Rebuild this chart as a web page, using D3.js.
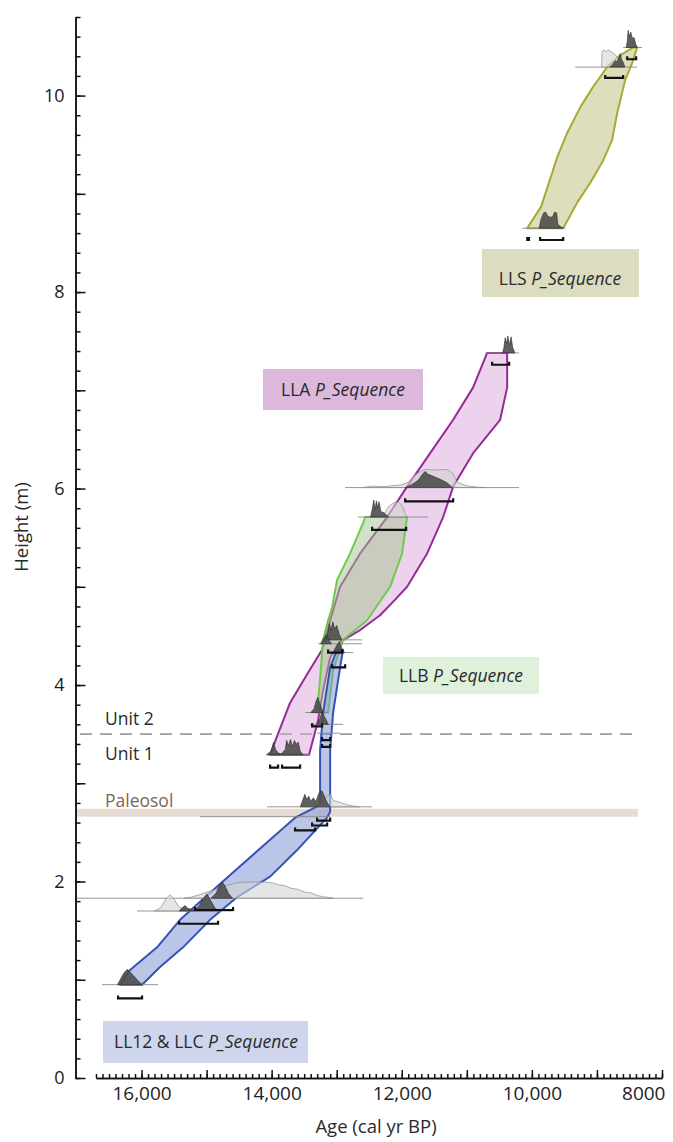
<!DOCTYPE html>
<html lang="en">
<head>
<meta charset="UTF-8">
<title>P_Sequence age-depth models</title>
<script src="https://d3js.org/d3.v7.min.js"></script>
<style>
  body { margin: 0; background: #fff; }
  svg text { font-family: "Open Sans", sans-serif; fill: #2a2a2a; }
</style>
</head>
<body>
<script>
// axis labels
const xTickValues = [16000, 14000, 12000, 10000, 8000];
const xTickLabels = ["16,000", "14,000", "12,000", "10,000", "8000"];
const yTickLabels = [0, 2, 4, 6, 8, 10];

// model envelopes, [age cal BP, height m], traced round the outline
const llsEnvelope = [[10073, 8.65], [9858, 8.87], [9612, 9.37], [9458, 9.62], [9258, 9.88], [9058, 10.09], [8843, 10.29],
  [8643, 10.41], [8443, 10.49], [8382, 10.49], [8459, 10.33], [8566, 10.16], [8612, 10.03], [8689, 9.82],
  [8766, 9.55], [8904, 9.34], [9104, 9.11], [9304, 8.91], [9519, 8.65]];
const llaEnvelope = [[10688, 7.38], [10903, 7.03], [11210, 6.70], [11564, 6.36], [11918, 6.02], [12225, 5.71], [12640, 5.34],
  [12948, 5.00], [13101, 4.66], [13225, 4.36], [13455, 4.11], [13716, 3.82], [13916, 3.48], [14024, 3.29],
  [13425, 3.29], [13286, 3.64], [13209, 3.95], [13101, 4.28], [12948, 4.44], [12640, 4.56], [12333, 4.71],
  [12102, 4.87], [11918, 5.00], [11610, 5.34], [11364, 5.71], [11210, 6.02], [10903, 6.36], [10488, 6.70],
  [10380, 7.03], [10380, 7.38]];
const llbEnvelope = [[12564, 5.71], [12594, 5.65], [12794, 5.34], [12994, 5.07], [13071, 4.79], [13132, 4.66],
  [13209, 4.46], [13255, 4.07], [13302, 3.72], [13132, 3.72], [13055, 4.15], [12902, 4.46], [12533, 4.66],
  [12179, 5.00], [11995, 5.34], [11918, 5.71]];
const ll12Envelope = [[12994, 4.36], [13101, 4.18], [13209, 3.72], [13255, 3.34], [13255, 2.78], [13640, 2.65],
  [14086, 2.39], [14547, 2.12], [15024, 1.84], [15408, 1.61], [15762, 1.33], [16177, 1.10], [16331, 0.95],
  [15992, 0.95], [15716, 1.13], [15362, 1.33], [14947, 1.61], [14532, 1.84], [14024, 2.05], [13609, 2.32],
  [13148, 2.65], [13101, 2.71], [13101, 3.34], [13055, 3.72], [12948, 4.18], [12902, 4.36]];

// sample levels: [height, oldest age, youngest age] of the grey base line
const sampleLines = [[10.49, 8597, 8305], [10.29, 9334, 8382], [8.65, 10149, 9488],
  [7.38, 10718, 10196], [6.01, 12871, 10196], [5.71, 12671, 11595], [3.29, 14070, 13425],
  [4.46, 13225, 12610], [4.42, 13286, 12610], [4.33, 13101, 12748], [3.72, 13486, 13148],
  [3.60, 13409, 12902], [3.51, 13302, 12948],
  [2.76, 14070, 12456], [2.66, 15100, 13100], [1.83, 17000, 12594], [1.70, 16069, 14593], [0.95, 16607, 15746]];

// 95% ranges: [height, oldest, youngest]
const ranges = [[10.37, 8535, 8397], [10.18, 8873, 8597], [8.53, 9874, 9519], [8.53, 10070, 10045],
  [7.26, 10611, 10349], [5.87, 11948, 11210], [5.58, 12456, 11933], [3.16, 14024, 13901], [3.16, 13840, 13563],
  [4.33, 13132, 12917], [4.18, 13071, 12871], [3.58, 13378, 13225], [3.44, 13225, 13101], [3.37, 13225, 13101],
  [2.62, 13302, 13101], [2.57, 13378, 13148], [2.52, 13640, 13332], [1.71, 15177, 14593], [1.57, 15423, 14824],
  [0.81, 16361, 15992]];

// unmodelled (likelihood) distributions, [age, relative density]
const priorDists = [
  {h: 10.29, pts: [[8930, 0], [8919, 0.9], [8890, 0.95], [8860, 0.85], [8830, 0.95], [8800, 0.9], [8760, 0.8], [8720, 0.7], [8680, 0.5], [8640, 0.3], [8600, 0.1], [8580, 0]]},
  {h: 6.01, pts: [[12600, 0], [12450, 0.08], [12300, 0.05], [12150, 0.1], [12000, 0.15], [11900, 0.3], [11800, 0.7], [11650, 1.0], [11450, 0.98], [11300, 1.0], [11220, 0.8], [11150, 0.3], [11000, 0.1], [10850, 0.03], [10700, 0]]},
  {h: 5.71, pts: [[12300, 0], [12250, 0.3], [12200, 0.6], [12120, 0.8], [12050, 0.85], [11990, 0.6], [11950, 0.2], [11920, 0]]},
  {h: 2.76, pts: [[13300, 0], [13200, 0.4], [13100, 0.7], [13050, 0.35], [12950, 0.25], [12850, 0.12], [12750, 0.05], [12650, 0]]},
  {h: 1.83, pts: [[15350, 0], [15250, 0.05], [15100, 0.2], [14900, 0.45], [14700, 0.7], [14500, 0.88], [14300, 0.9], [14100, 0.9], [13980, 0.85], [13900, 0.75], [13800, 0.7], [13700, 0.55], [13600, 0.5], [13500, 0.35], [13400, 0.3], [13300, 0.15], [13200, 0.08], [13050, 0]]},
  {h: 1.70, pts: [[15800, 0], [15700, 0.2], [15620, 0.7], [15560, 0.9], [15500, 0.65], [15420, 0.2], [15300, 0.05], [15200, 0]]}
];

// modelled (posterior) distributions
const postDists = [
  {h: 10.49, pts: [[8550, 0], [8535, 0.3], [8520, 0.95], [8500, 0.6], [8480, 0.85], [8455, 0.5], [8430, 0.55], [8405, 0.2], [8380, 0]]},
  {h: 10.29, pts: [[8800, 0], [8760, 0.15], [8720, 0.35], [8690, 0.3], [8660, 0.55], [8640, 0.75], [8620, 0.4], [8600, 0.3], [8570, 0]]},
  {h: 8.65, pts: [[9890, 0], [9860, 0.5], [9820, 0.85], [9790, 0.9], [9760, 0.7], [9720, 0.6], [9680, 0.65], [9650, 0.9], [9620, 0.85], [9600, 0.2], [9560, 0.1], [9520, 0]]},
  {h: 7.38, pts: [[10450, 0], [10430, 0.3], [10410, 0.85], [10390, 0.5], [10370, 0.95], [10345, 0.45], [10320, 0.9], [10295, 0.3], [10260, 0]]},
  {h: 6.01, pts: [[11950, 0], [11850, 0.15], [11750, 0.4], [11680, 0.75], [11640, 0.9], [11600, 0.75], [11500, 0.6], [11400, 0.45], [11300, 0.25], [11220, 0]]},
  {h: 5.71, pts: [[12480, 0], [12450, 0.5], [12430, 0.95], [12410, 0.4], [12390, 0.9], [12370, 0.5], [12350, 0.85], [12320, 0.3], [12280, 0.25], [12230, 0.1], [12200, 0]]},
  {h: 3.29, pts: [[14080, 0], [14010, 0.2], [13970, 0.7], [13940, 0.3], [13900, 0.1], [13850, 0.05], [13790, 0.3], [13770, 0.8], [13740, 0.5], [13710, 0.85], [13680, 0.45], [13650, 0.8], [13620, 0.6], [13590, 0.7], [13560, 0.2], [13520, 0]]},
  {h: 4.46, pts: [[13180, 0], [13140, 0.4], [13110, 0.9], [13090, 0.5], [13060, 1.0], [13030, 0.6], [13000, 0.8], [12960, 0.3], [12920, 0]]},
  {h: 4.42, pts: [[13250, 0], [13200, 0.3], [13160, 0.5], [13120, 0.2], [13080, 0]]},
  {h: 4.33, pts: [[13050, 0], [13000, 0.4], [12960, 0.6], [12920, 0.2], [12880, 0]]},
  {h: 3.72, pts: [[13400, 0], [13350, 0.2], [13320, 0.6], [13290, 0.85], [13260, 0.5], [13230, 0.2], [13200, 0]]},
  {h: 3.60, pts: [[13300, 0], [13260, 0.3], [13230, 0.7], [13200, 0.5], [13170, 0.3], [13130, 0]]},
  {h: 2.76, pts: [[13560, 0], [13520, 0.4], [13490, 0.7], [13460, 0.4], [13430, 0.6], [13400, 0.3], [13360, 0.5], [13320, 0.3], [13280, 0.7], [13250, 0.9], [13220, 0.85], [13180, 0.5], [13140, 0.2], [13100, 0]]},
  {h: 1.83, pts: [[14930, 0], [14850, 0.3], [14800, 0.75], [14760, 0.9], [14720, 0.7], [14660, 0.25], [14600, 0]]},
  {h: 1.70, pts: [[15420, 0], [15370, 0.2], [15330, 0.3], [15290, 0.15], [15200, 0.05], [15120, 0.25], [15060, 0.65], [14995, 0.95], [14940, 0.6], [14870, 0.15], [14800, 0]]},
  {h: 0.95, pts: [[16370, 0], [16280, 0.6], [16220, 0.85], [16150, 0.6], [16050, 0.2], [15990, 0]]}
];

const unitBoundary = 3.5;   // Unit 1 / Unit 2
const paleosolHeight = 2.7;

const svg = d3.select("body").append("svg")
    .attr("width", 673)
    .attr("height", 1142);

const x = d3.scaleLinear().domain([16700, 8000]).range([96, 662]);
const y = d3.scaleLinear().domain([0, 10.8]).range([1078, 17]);
const dens = d3.scaleLinear().domain([0, 1]).range([0, 18]);

// paleosol band and unit boundary
svg.append("line")
    .attr("x1", 76).attr("x2", 638)
    .attr("y1", y(paleosolHeight)).attr("y2", y(paleosolHeight))
    .attr("stroke", "#e6dcd2").attr("stroke-width", 8);
svg.append("line")
    .attr("x1", 80).attr("x2", 638)
    .attr("y1", y(unitBoundary)).attr("y2", y(unitBoundary))
    .attr("stroke", "#9a9a9a").attr("stroke-width", 1.6)
    .attr("stroke-dasharray", "12,8");

// envelopes
const outline = d3.line().x(d => x(d[0])).y(d => y(d[1]));
const envelopes = [
  {pts: llaEnvelope, fill: "#d9a6d9", opacity: 0.5, stroke: "#962a96"},
  {pts: llbEnvelope, fill: "#a3c38f", opacity: 0.5, stroke: "#6fcb4c"},
  {pts: ll12Envelope, fill: "#8296d4", opacity: 0.55, stroke: "#3553b5"},
  {pts: llsEnvelope, fill: "#d8d8b0", opacity: 0.85, stroke: "#a8a934"}
];
svg.selectAll(".env")
  .data(envelopes)
  .join("path")
    .attr("class", "env")
    .attr("d", d => outline(d.pts) + "Z")
    .attr("fill", d => d.fill)
    .attr("fill-opacity", d => d.opacity)
    .attr("stroke", d => d.stroke)
    .attr("stroke-width", 2)
    .attr("stroke-linejoin", "round");

// sample base lines
svg.selectAll(".base")
  .data(sampleLines)
  .join("line")
    .attr("class", "base")
    .attr("x1", d => x(d[1])).attr("x2", d => x(d[2]))
    .attr("y1", d => y(d[0])).attr("y2", d => y(d[0]))
    .attr("stroke", "#8a8a8a").attr("stroke-width", 0.9);

// distributions
const distArea = h => d3.area()
    .x(d => x(d[0]))
    .y0(y(h))
    .y1(d => y(h) - dens(d[1]));

svg.selectAll(".prior")
  .data(priorDists)
  .join("path")
    .attr("class", "prior")
    .attr("d", d => distArea(d.h)(d.pts))
    .attr("fill", "#d4d4d4").attr("fill-opacity", 0.6)
    .attr("stroke", "#8c8c8c").attr("stroke-width", 0.7);

svg.selectAll(".post")
  .data(postDists)
  .join("path")
    .attr("class", "post")
    .attr("d", d => distArea(d.h)(d.pts))
    .attr("fill", "#4e4e4e").attr("fill-opacity", 0.9)
    .attr("stroke", "#2a2a2a").attr("stroke-width", 0.6);

// 95% range brackets
svg.selectAll(".range")
  .data(ranges)
  .join("path")
    .attr("class", "range")
    .attr("d", d => `M${x(d[1])},${y(d[0]) - 3}V${y(d[0])}H${x(d[2])}V${y(d[0]) - 3}`)
    .attr("fill", "none")
    .attr("stroke", "#111").attr("stroke-width", 2.2);

// sequence labels
const labels = [
  {name: "LLS ", box: [482, 249, 157, 48], tx: 560, ty: 285, fill: "#dcdcc0"},
  {name: "LLA ", box: [263, 369, 160, 41], tx: 343, ty: 396, fill: "#dcb9dc"},
  {name: "LLB ", box: [383, 657, 156, 37], tx: 461, ty: 682, fill: "#dff1da"},
  {name: "LL12 & LLC ", box: [103, 1021, 205, 42], tx: 206, ty: 1048, fill: "#cfd5ec"}
];
labels.forEach(l => {
  svg.append("rect")
      .attr("x", l.box[0]).attr("y", l.box[1])
      .attr("width", l.box[2]).attr("height", l.box[3])
      .attr("fill", l.fill);
  const t = svg.append("text")
      .attr("x", l.tx).attr("y", l.ty)
      .attr("text-anchor", "middle")
      .attr("font-size", 17.5);
  t.append("tspan").text(l.name);
  t.append("tspan").attr("font-style", "italic").text("P_Sequence");
});

// unit labels
svg.append("text").attr("x", 105).attr("y", 725).attr("font-size", 17.5).text("Unit 2");
svg.append("text").attr("x", 105).attr("y", 760).attr("font-size", 17.5).text("Unit 1");
svg.append("text").attr("x", 105).attr("y", 807).attr("font-size", 17.5)
    .style("fill", "#7b6659").text("Paleosol");

// x axis
const gx = svg.append("g").attr("transform", `translate(0,${y(0)})`);
gx.append("g").call(d3.axisBottom(x)
    .tickValues(d3.range(8000, 16701, 100))
    .tickSizeInner(-4).tickSizeOuter(0).tickFormat(""));
gx.append("g").call(d3.axisBottom(x)
    .tickValues(d3.range(8000, 16001, 1000))
    .tickSizeInner(-8).tickSizeOuter(0).tickPadding(9)
    .tickFormat(d => { const i = xTickValues.indexOf(d); return i < 0 ? "" : xTickLabels[i]; }));
gx.selectAll("text").filter(d => d === 8000).attr("text-anchor", "end").attr("dx", 3);

// y axis
const gy = svg.append("g").attr("transform", "translate(75.5,0)");
gy.append("g").call(d3.axisLeft(y)
    .tickValues(d3.range(0, 55).map(i => i / 5))
    .tickSizeInner(-5).tickSizeOuter(0).tickFormat(""));
gy.append("g").call(d3.axisLeft(y)
    .tickValues(d3.range(0, 11))
    .tickSizeInner(-10).tickSizeOuter(0).tickPadding(11)
    .tickFormat(d => yTickLabels.includes(d) ? d : ""));

svg.selectAll("g .domain, g .tick line")
    .attr("stroke", "#111").attr("stroke-width", 1.5);
gx.selectAll("text").attr("font-family", "Open Sans, sans-serif").attr("font-size", 19).style("fill", "#222");
gy.selectAll("text").attr("font-family", "Open Sans, sans-serif").attr("font-size", 18).style("fill", "#222");
svg.selectAll("g[font-family]").attr("font-family", null).attr("font-size", null);

// axis titles
svg.append("text")
    .attr("x", 376).attr("y", 1133)
    .attr("text-anchor", "middle").attr("font-size", 18.5)
    .text("Age (cal yr BP)");
svg.append("text")
    .attr("transform", "translate(28,527) rotate(-90)")
    .attr("text-anchor", "middle").attr("font-size", 18.5)
    .text("Height (m)");
</script>
</body>
</html>
